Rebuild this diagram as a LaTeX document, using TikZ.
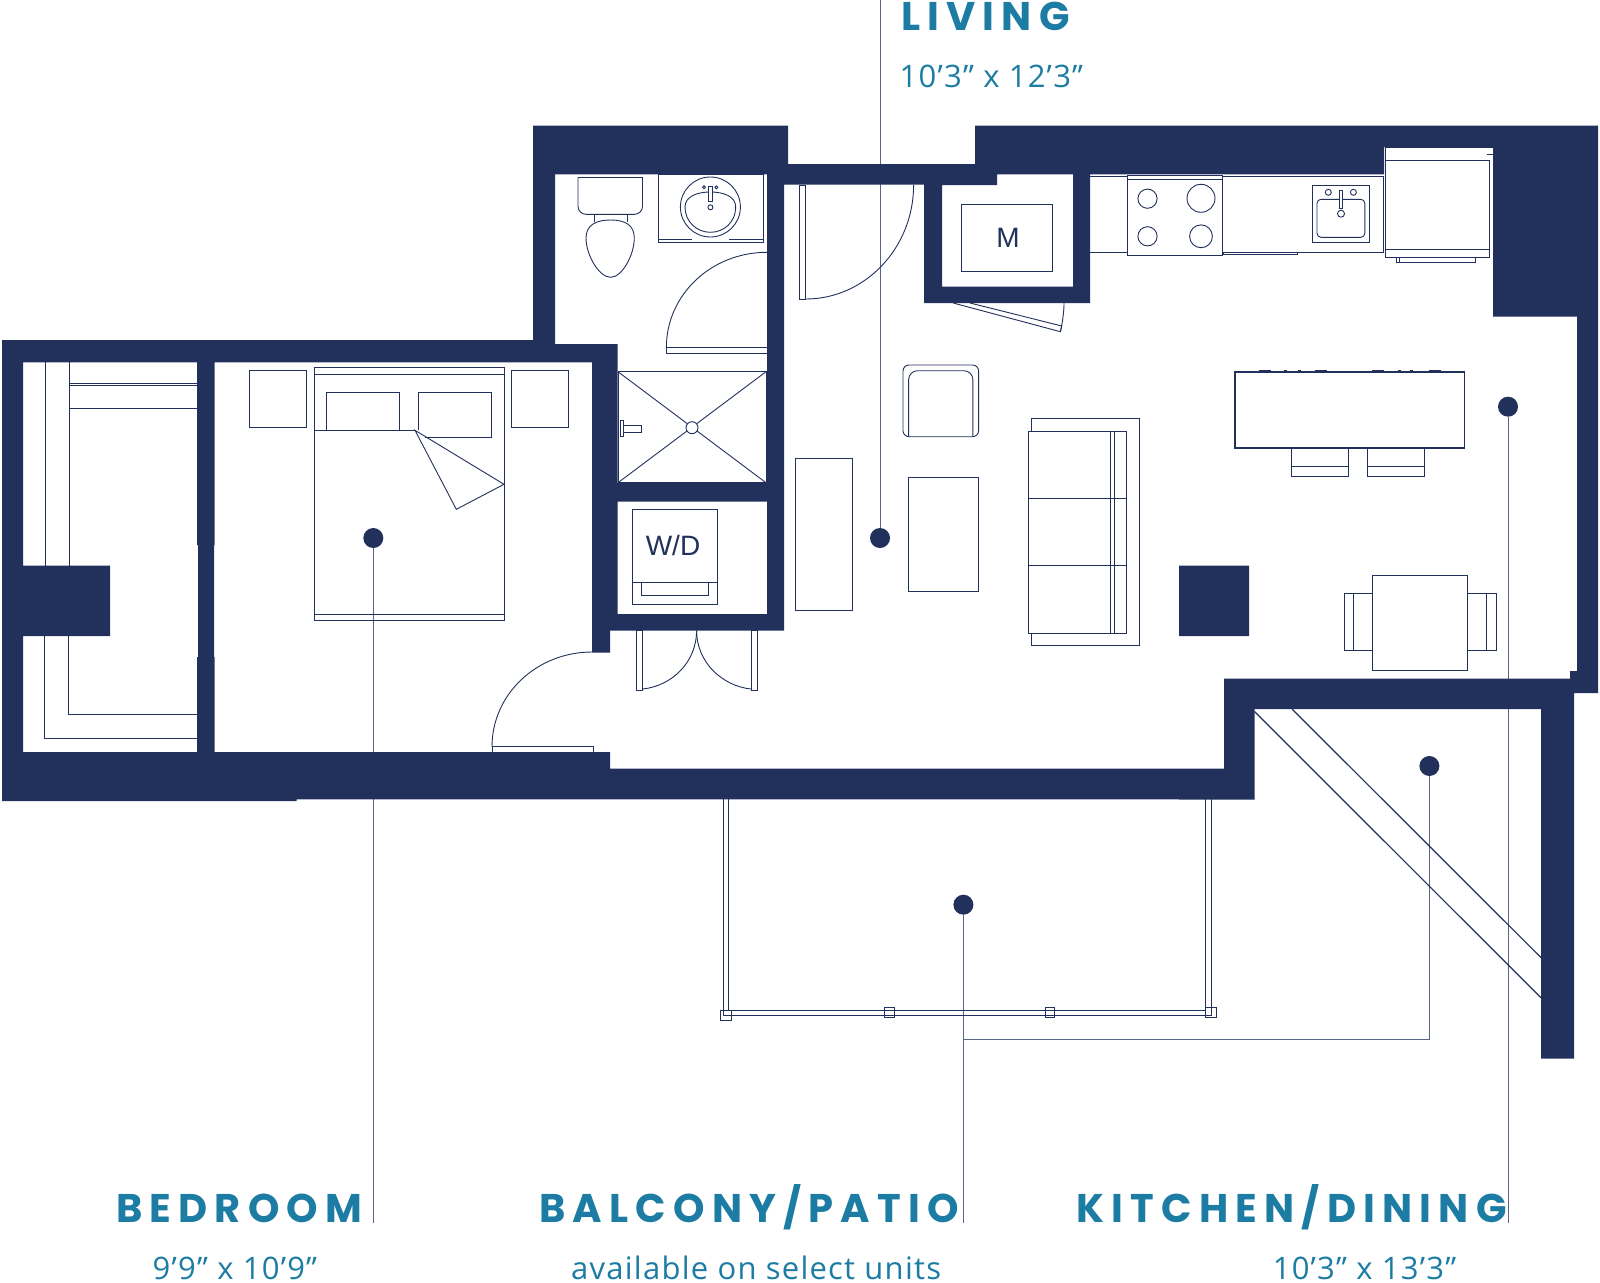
\documentclass[tikz,border=0pt]{standalone}
\usepackage{fontspec}
\usepackage{xcolor}
\newfontfamily\titlefont[LetterSpace=18]{Poppins}
\newfontfamily\sizefont[LetterSpace=4]{Open Sans}
\newfontfamily\applfont{Liberation Sans}
\definecolor{plannavy}{HTML}{22305C}
\definecolor{titleteal}{HTML}{1C7CA3}
\definecolor{leadergrey}{HTML}{5A6488}
\tikzset{
    wall-fill/.style = {fill=plannavy},
    plan-line/.style = {draw=plannavy, line width=0.9pt, line join=miter},
    plan-heavy/.style = {draw=plannavy, line width=1.6pt},
    leader-line/.style = {draw=leadergrey, line width=1pt},
    room-dot/.style = {circle, fill=plannavy, inner sep=0pt, minimum size=20pt},
    room-title/.style = {anchor=base west, inner sep=0pt, text=titleteal, font=\titlefont\bfseries\fontsize{40}{40}\selectfont},
    room-size/.style = {anchor=base west, inner sep=0pt, text=titleteal, font=\sizefont\fontsize{31}{31}\selectfont},
    appl-label/.style = {inner sep=0pt, text=plannavy, font=\applfont\fontsize{28}{28}\selectfont},
}

\begin{document}
\begin{tikzpicture}[x=1pt, y=-1pt]
\useasboundingbox (0,0) rectangle (1600,1282);
\fill[white] (0,0) rectangle (1600,1282);

\node[room-dot] (dot-living) at (880,538) {};
\node[room-dot] (dot-bedroom) at (373.3,538) {};
\node[room-dot] (dot-balcony) at (963.4,904.7) {};
\node[room-dot] (dot-terrace) at (1429.4,766) {};
\node[room-dot] (dot-kitchen) at (1508,406.7) {};
\coordinate (end-living) at (880,0);
\coordinate (end-bedroom) at (373.3,1223);
\coordinate (end-balcony) at (963.4,1223);
\coordinate (end-kitchen) at (1508,1223);
\coordinate (bend-terrace) at (1429.4,1039.7);
\coordinate (join-balcony) at (963.4,1039.7);

\draw[leader-line] (dot-living) -- (end-living);
\draw[leader-line] (dot-bedroom) -- (end-bedroom);
\draw[leader-line] (dot-balcony) -- (end-balcony);
\draw[leader-line] (dot-kitchen) -- (end-kitchen);
\draw[leader-line] (dot-terrace) -- (bend-terrace) -- (join-balcony);

% walls
\fill[wall-fill]
    (533,125.6) rectangle (788,174.3)
    (784,164) rectangle (975,184.5)
    (975,125.6) rectangle (1598,147)
    (975,147) rectangle (1384,174.3)
    (924,164) rectangle (997,185)
    (1493,125.6) rectangle (1598,316.7)
    (1577,316.7) rectangle (1598,693)
    (1570,671) rectangle (1598,693)
    (924,184) rectangle (942,303)
    (924,286.7) rectangle (1090,303)
    (1073,174) rectangle (1090,303)
    (533,174) rectangle (555,362)
    (767,174) rectangle (784,630.7)
    (2,340) rectangle (534,362.3)
    (534,344) rectangle (617.6,362.3)
    (592,344) rectangle (617.6,630.7)
    (592,630) rectangle (610,652.5)
    (617,483) rectangle (767,501.7)
    (610,614) rectangle (784,630.7)
    (2,340) rectangle (23,801)
    (2,565.7) rectangle (110,636)
    (197,362) rectangle (214.7,545)
    (198,545) rectangle (214,657)
    (197,657) rectangle (214.7,752)
    (2,752) rectangle (296.6,801)
    (296.6,752) rectangle (610,799.3)
    (610,768.7) rectangle (1224,799.3)
    (1179,769) rectangle (1254.5,799.6)
    (1224,678.6) rectangle (1254.5,799.6)
    (1224,678.6) rectangle (1574,709)
    (1541,709) rectangle (1574,1058.6)
    (1179,565.7) rectangle (1249,636);

% closet and bed
\draw[plan-line] (45.5,362) -- (45.5,566) (69.6,362) -- (69.6,566);
\draw[plan-line] (69.6,383.3) -- (197,383.3) (69.6,385.3) -- (197,385.3) (69.6,408.3) -- (197,408.3);
\draw[plan-line] (68.4,636) -- (68.4,714.7) -- (197,714.7);
\draw[plan-line] (44.3,636) -- (44.3,738.3) -- (197,738.3);
\draw[plan-line] (314.4,367.3) rectangle (504,620.3);
\draw[plan-line] (314.4,374) -- (504,374) (314.4,614) -- (504,614);
\draw[plan-line] (326.6,430.3) -- (326.6,392.3) -- (399.8,392.3) -- (399.8,430.3);
\draw[plan-line] (418.4,430.3) -- (418.4,392.3) -- (491.5,392.3) -- (491.5,437.3) -- (425,437.3);
\draw[plan-line] (314.4,430.3) -- (415,430.3);
\draw[plan-line] (415,430.3) -- (504,484.3) -- (456.3,509.3) -- cycle;
\draw[plan-line] (249.5,370.3) rectangle (306.4,427.3);
\draw[plan-line] (511.7,370.3) rectangle (568.6,427.3);

% doors
\draw[plan-line] (492,746.7) rectangle (593.7,752);
\draw[plan-line] (492,746.7) .. controls (492,694) and (537,652) .. (592,652);
\draw[plan-line] (666.4,347.3) rectangle (767,353.7);
\draw[plan-line] (666.4,347.3) .. controls (666.4,295) and (711,252.3) .. (767,252.3);
\draw[plan-line] (799.6,185) rectangle (805.7,299.3);
\draw[plan-line] (805.7,299) .. controls (865,299) and (913.6,248) .. (913.6,185);
\draw[plan-line] (636,630.7) rectangle (642.6,690.3);
\draw[plan-line] (751,630.7) rectangle (757,690.3);
\draw[plan-line] (642.6,689) .. controls (672,686) and (696.6,662) .. (696.6,630.7);
\draw[plan-line] (751,689) .. controls (722,686) and (696.6,662) .. (696.6,630.7);
\draw[plan-line] (953.2,303) -- (1060.4,331.7) -- (1061.8,326) -- (970,303);
\draw[plan-line] (1060.4,331.7) .. controls (1062.5,322) and (1064,312) .. (1064,303);

% bathroom
\draw[plan-line, rounded corners=8pt] (578,177.3) -- (578,214.3) -- (642.5,214.3) -- (642.5,177.3);
\draw[plan-line] (578,177.3) -- (642.5,177.3);
\draw[plan-line] (594,214.3) -- (594,222) (627,214.3) -- (627,222);
\draw[plan-line] (610.7,220) .. controls (625,220) and (634.3,225) .. (634.3,238) .. controls (634.3,255) and (622,277.3) .. (610.7,277.3) .. controls (599,277.3) and (586,255) .. (586,238) .. controls (586,225) and (596,220) .. (610.7,220);
\draw[plan-line] (658,174.3) rectangle (763,242.7);
\draw[plan-line] (658,239.3) -- (692,239.3) (729,239.3) -- (763,239.3);
\draw[plan-line] (710.4,207) circle [radius=30];
\draw[plan-line] (685,207) .. controls (685,196) and (698,192) .. (710.4,192) .. controls (723,192) and (735.7,196) .. (735.7,207) .. controls (735.7,222) and (724,232.3) .. (710.4,232.3) .. controls (697,232.3) and (685,222) .. (685,207);
\draw[plan-line, fill=white] (708.6,186) rectangle (712,201.7);
\draw[plan-line] (710.4,207.3) circle [radius=2.5];
\draw[plan-line] (704,187.3) circle [radius=1.5] (716.4,187.3) circle [radius=1.5];

\draw[plan-line] (618,371.7) rectangle (766,482.7);
\draw[plan-line] (618,371.7) -- (766,482.7) (766,371.7) -- (618,482.7);
\draw[plan-line, fill=white] (692,427.7) circle [radius=6];
\draw[plan-line] (620,420.7) rectangle (623,436.7);
\draw[plan-line] (623,425.5) rectangle (641.4,432);

% laundry and mechanical
\draw[plan-line] (632.3,509.3) rectangle (717.7,604.3);
\draw[plan-line] (632.3,582.3) -- (717.7,582.3);
\draw[plan-line] (641.5,582.3) rectangle (708,595.3);
\node[appl-label] (label-laundry) at (673,545.7) {W/D};
\draw[plan-line] (961.4,204) rectangle (1052,271.7);
\node[appl-label] (label-mech) at (1008,237.5) {M};

% living
\draw[plan-line] (903,365) [rounded corners=6pt] -- (978.6,365) -- (978.6,436.7) -- (903,436.7) -- cycle;
\draw[plan-line, rounded corners=9pt] (908.6,436.7) -- (908.6,370.7) -- (972.9,370.7) -- (972.9,436.7);
\draw[plan-line] (795.7,458.3) rectangle (852.5,610);
\draw[plan-line] (908,477.3) rectangle (978,591);
\draw[plan-line] (1031.4,418) rectangle (1139.3,645.7);
\draw[plan-line, fill=white] (1028,431) rectangle (1126.5,633);
\draw[plan-line] (1028,498.3) -- (1126.5,498.3) (1028,565.3) -- (1126.5,565.3);
\draw[plan-line] (1110.6,431) -- (1110.6,633) (1114,431) -- (1114,633);

% kitchen
\draw[plan-line] (1090,176) -- (1383.7,176) -- (1383.7,252.7) -- (1090,252.7);
\draw[plan-line, fill=white] (1127,175) rectangle (1222,255.3);
\draw[plan-line] (1127,179.3) -- (1222,179.3);
\draw[plan-line] (1147.5,198.7) circle [radius=9.6];
\draw[plan-line] (1201,198.3) circle [radius=14];
\draw[plan-line] (1147.5,236.3) circle [radius=9.6];
\draw[plan-line] (1201,236.3) circle [radius=11.4];
\draw[plan-line] (1312.4,185) rectangle (1369.2,242.3);
\draw[plan-line, rounded corners=4pt] (1317,199.3) rectangle (1364.8,237.3);
\draw[plan-line, fill=white] (1339.6,190.7) rectangle (1342.4,208.7);
\draw[plan-line] (1341,213.7) circle [radius=3.5];
\draw[plan-line] (1328.3,192.3) circle [radius=3] (1353.4,192.3) circle [radius=3];
\draw[plan-line] (1223.6,252.7) rectangle (1297,254.5);
\draw[plan-line] (1385.4,160) rectangle (1489.8,257.3);
\draw[plan-line] (1385.4,249.3) -- (1489.8,249.3);
\draw[plan-line] (1396.4,257.3) rectangle (1475.6,262.3);
\draw[plan-line] (1399.2,257.3) -- (1399.2,262.3);
\draw[plan-line] (1487,154) -- (1493,154) (1385.4,147) -- (1385.4,160);
\draw[plan-line] (1385.4,147) -- (1493,147);
\draw[plan-heavy] (1235,371.7) rectangle (1464.3,448);
\foreach \tickx/\tickw in {1259/12, 1284/3, 1298/3, 1315/12, 1372/12, 1398/3, 1410/3, 1429/12}
    \draw[plan-heavy] (\tickx,370.5) -- ++(\tickw,0);
\draw[plan-line] (1291.4,448) rectangle (1348.6,476.3);
\draw[plan-line] (1291.4,466.7) -- (1348.6,466.7);
\draw[plan-line] (1367,448) rectangle (1424.7,476.3);
\draw[plan-line] (1367,466.7) -- (1424.7,466.7);
\draw[plan-line] (1372,575) rectangle (1467.7,670);
\draw[plan-line] (1344,593.7) rectangle (1372,650.7);
\draw[plan-line] (1353.6,593.7) -- (1353.6,650.7);
\draw[plan-line] (1467.7,593.7) rectangle (1496,650.7);
\draw[plan-line] (1486.8,593.7) -- (1486.8,650.7);

% terrace and balcony
\draw[plan-heavy, line width=1.2pt] (1254.5,711.5) -- (1541,997.8);
\draw[plan-heavy, line width=1.2pt] (1292,709) -- (1541,957.6);
\draw[plan-line] (723.4,799.3) -- (723.4,1015) -- (1211,1015) -- (1211,799.3);
\draw[plan-line] (728,799.3) -- (728,1010) -- (1205.5,1010) -- (1205.5,799.3);
\draw[plan-line] (720.7,1010) rectangle (731,1020);
\draw[plan-line] (884,1007) rectangle (894.6,1017);
\draw[plan-line] (1045,1007) rectangle (1054.7,1017);
\draw[plan-line] (1205.5,1007) rectangle (1216,1017);

% labels
\node[room-title] (title-living) at (901,30.7) {LIVING};
\node[room-size] (size-living) at (899.5,87.3) {10’3” x 12’3”};
\node[room-title] (title-bedroom) at (116,1222.7) {BEDROOM};
\node[room-size] (size-bedroom) at (152.5,1279.3) {9’9” x 10’9”};
\node[room-title] (title-balcony) at (539,1222.7) {BALCONY/PATIO};
\node[room-size] (size-balcony) at (571,1279.3) {available on select units};
\node[room-title] (title-kitchen) at (1076.6,1222.7) {KITCHEN/DINING};
\node[room-size] (size-kitchen) at (1272.6,1279.3) {10’3” x 13’3”};
\end{tikzpicture}
\end{document}
